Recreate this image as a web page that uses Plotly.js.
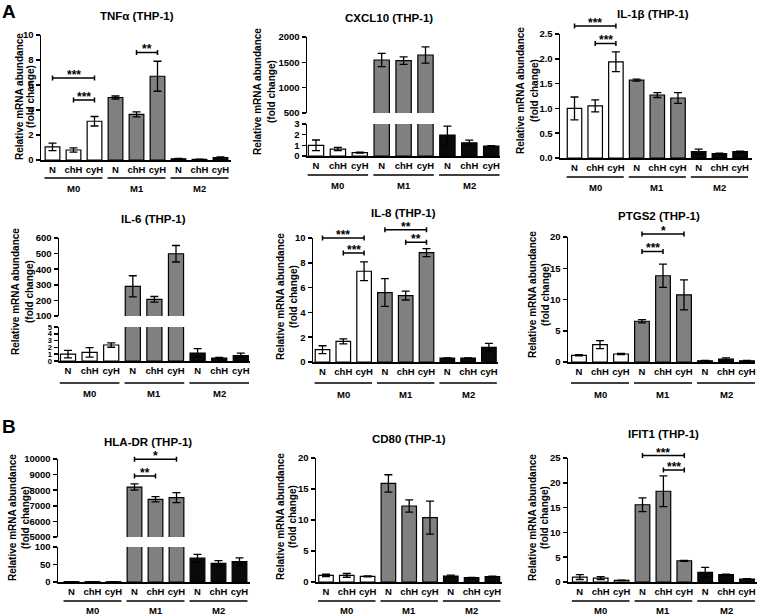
<!DOCTYPE html>
<html><head><meta charset="utf-8">
<script src="https://cdn.plot.ly/plotly-3.0.1.min.js"></script>
<style>html,body{margin:0;padding:0;background:#fff}</style>
</head><body><div id="chart" style="width:758px;height:616px"></div>
<script>
// ---------- data ----------
const categories = ['N', 'chH', 'cyH'];
const groups = ['M0', 'M1', 'M2'];
const groupColors = ['#ffffff', '#808080', '#0a0a0a'];
const yTitle1 = 'Relative mRNA abundance';
const yTitle2 = '(fold change)';

const tnfVals = [1.05, 0.8, 3.1, 5.0, 3.65, 6.7, 0.1, 0.05, 0.2];
const tnfErr  = [0.3, 0.17, 0.38, 0.12, 0.2, 1.2, 0.03, 0.02, 0.05];
const tnfSig  = [[0, 2, 6.56, '***'], [1, 2, 4.8, '***'], [4, 5, 8.6, '**']];

const cxclVals = [1.0, 0.65, 0.31, 1546, 1533, 1645, 1.96, 1.24, 0.93];
const cxclErr  = [0.5, 0.15, 0.04, 130, 75, 160, 0.84, 0.25, 0.04];

const il1bVals = [1.0, 1.05, 1.94, 1.57, 1.27, 1.21, 0.13, 0.09, 0.13];
const il1bErr  = [0.23, 0.12, 0.2, 0.02, 0.05, 0.11, 0.05, 0.01, 0.01];
const il1bSig  = [[0, 2, 2.66, '***'], [1, 2, 2.31, '***']];

const il6Vals = [1.0, 1.27, 2.35, 290, 207, 499, 1.17, 0.42, 0.8];
const il6Err  = [0.55, 0.7, 0.33, 68, 18, 53, 0.65, 0.1, 0.35];

const il8Vals = [0.99, 1.66, 7.32, 5.6, 5.36, 8.82, 0.32, 0.32, 1.18];
const il8Err  = [0.32, 0.2, 0.75, 1.12, 0.36, 0.32, 0.02, 0.02, 0.32];
const il8Sig  = [[0, 2, 10.0, '***'], [1, 2, 8.79, '***'], [3, 5, 10.67, '**'], [4, 5, 9.65, '**']];

const ptgsVals = [1.07, 2.78, 1.28, 6.52, 13.8, 10.75, 0.2, 0.45, 0.2];
const ptgsErr  = [0.1, 0.64, 0.08, 0.25, 1.87, 2.4, 0.05, 0.2, 0.05];
const ptgsSig  = [[3, 5, 20.5, '*'], [3, 4, 17.7, '***']];

const hlaVals = [1.0, 0.9, 0.8, 8200, 7417, 7519, 68, 53, 58];
const hlaErr  = [0.2, 0.2, 0.2, 200, 170, 320, 11, 8, 11];
const hlaSig  = [[3, 5, 9990, '*'], [3, 4, 8910, '**']];

const cd80Vals = [1.07, 1.07, 0.91, 15.9, 12.26, 10.38, 0.97, 0.7, 0.86];
const cd80Err  = [0.18, 0.3, 0.07, 1.4, 1.0, 2.65, 0.15, 0.05, 0.1];

const ifitVals = [1.0, 0.8, 0.33, 15.57, 18.3, 4.28, 1.94, 1.47, 0.6];
const ifitErr  = [0.5, 0.3, 0.05, 1.4, 3.1, 0.1, 1.0, 0.1, 0.08];
const ifitSig  = [[3, 5, 25.5, '***'], [4, 5, 22.6, '***']];

// ---------- layout (pixel geometry) ----------
const W = 758, H = 616;
const fx = p => p / W, fy = p => 1 - p / H;
const FONT = 'Liberation Sans, Arial, sans-serif';
const bold = (size) => ({family: FONT, size: size, color: '#000', weight: 'bold'});

const panels = [
  {title: 'TNFα (THP-1)', vals: tnfVals, err: tnfErr, sig: tnfSig, x0: 41, c0: 52.5, s: 21, x1: 231,
   yTop: 35, yBot: 160, range: [0, 10], dtick: 2, tx: 137, ty: 16, t1x: 19, tgap: 11, ty0: 97, line: 178, grp: 188},
  {title: 'CXCL10 (THP-1)', vals: cxclVals, err: cxclErr, sig: [], x0: 307, c0: 316, s: 21.9, x1: 500,
   broken: true, up: [37, 113], lo: [124, 156], upRange: [500, 2000], upD: 500, loRange: [0, 3], loD: 1,
   tx: 389, ty: 18, t1x: 257, tgap: 14, ty0: 92, line: 175, grp: 185},
  {title: 'IL-1β (THP-1)', vals: il1bVals, err: il1bErr, sig: il1bSig, x0: 560, c0: 574.5, s: 20.7, x1: 752,
   yTop: 34, yBot: 158, range: [0, 2.5], dtick: 0.5, fmt: '.1f', tx: 653, ty: 14, t1x: 521, tgap: 14, ty0: 91, line: 177, grp: 187},
  {title: 'IL-6 (THP-1)', vals: il6Vals, err: il6Err, sig: [], x0: 59, c0: 68, s: 21.6, x1: 250,
   broken: true, up: [238, 316], lo: [327, 361], upRange: [100, 600], upD: 100, loRange: [0, 5], loD: 1, loFont: 7.5,
   tx: 153, ty: 219, t1x: 15, tgap: 14, ty0: 292, line: 383, grp: 393},
  {title: 'IL-8 (THP-1)', vals: il8Vals, err: il8Err, sig: il8Sig, x0: 313, c0: 322.5, s: 20.8, x1: 498,
   yTop: 238, yBot: 362, range: [0, 10], dtick: 2, tx: 403, ty: 213, t1x: 280, tgap: 13, ty0: 297, line: 383, grp: 394},
  {title: 'PTGS2 (THP-1)', vals: ptgsVals, err: ptgsErr, sig: ptgsSig, x0: 568, c0: 579, s: 21, x1: 755,
   yTop: 237, yBot: 362, range: [0, 20], dtick: 5, tx: 659, ty: 216, t1x: 532, tgap: 13, ty0: 295, line: 383, grp: 394},
  {title: 'HLA-DR (THP-1)', vals: hlaVals, err: hlaErr, sig: hlaSig, x0: 58, c0: 71.5, s: 21, x1: 250,
   broken: true, up: [459, 537], lo: [547, 582], upRange: [5000, 10000], upD: 1000, loRange: [0, 100], loD: 50,
   tx: 148, ty: 442, t1x: 12, tgap: 13, ty0: 518, line: 601, grp: 610},
  {title: 'CD80 (THP-1)', vals: cd80Vals, err: cd80Err, sig: [], x0: 316, c0: 326, s: 20.8, x1: 502,
   yTop: 458, yBot: 582, range: [0, 20], dtick: 5, tx: 409, ty: 439, t1x: 280, tgap: 12, ty0: 517, line: 601, grp: 610},
  {title: 'IFIT1 (THP-1)', vals: ifitVals, err: ifitErr, sig: ifitSig, x0: 568, c0: 579.8, s: 20.9, x1: 757,
   yTop: 458, yBot: 582, range: [0, 25], dtick: 5, tx: 663, ty: 434, t1x: 532, tgap: 12, ty0: 518, line: 601, grp: 610}
];

const data = [];
const layout = {
  width: W, height: H, margin: {l: 0, r: 0, t: 0, b: 0, pad: 0},
  paper_bgcolor: '#fff', plot_bgcolor: 'rgba(0,0,0,0)', showlegend: false,
  font: bold(9.5), annotations: [], shapes: []
};
const nm = i => (i === 1 ? '' : String(i));

function yAxisStyle(dom, range, dtick, anchor, fmt, fsize) {
  return {domain: [fy(dom[1]), fy(dom[0])], range: range, dtick: dtick, tick0: range[0], anchor: anchor,
    showline: true, linecolor: '#000', linewidth: 1.5, ticks: 'outside', ticklen: 4, tickwidth: 1.5,
    tickcolor: '#000', showgrid: false, zeroline: false, tickfont: bold(fsize || 9.5), tickformat: fmt || 'd',
    fixedrange: true};
}

function barTrace(p, n) {
  const xs = p.vals.map((v, i) => i);
  return {type: 'bar', x: xs, y: p.vals, xaxis: 'x' + nm(n), yaxis: 'y' + nm(n), width: 0.7,
    marker: {color: p.vals.map((v, i) => groupColors[Math.floor(i / 3)]), line: {color: '#000', width: 1.2}},
    error_y: {type: 'data', array: p.err, visible: true, color: '#000', thickness: 1.3, width: 4},
    hoverinfo: 'skip'};
}

let k = 1;
panels.forEach(p => {
  const xr = [(p.x0 - p.c0) / p.s, (p.x1 - p.c0) / p.s];
  const xd = [fx(p.x0), fx(p.x1)];
  const xs = p.vals.map((v, i) => i);
  const lo = k;
  const loDom = p.broken ? p.lo : [p.yTop, p.yBot];
  layout['xaxis' + nm(lo)] = {domain: xd, range: xr, anchor: 'y' + nm(lo), tickvals: xs,
    ticktext: xs.map(i => categories[i % 3]), ticks: '', showline: true, linecolor: '#000', linewidth: 1.5,
    showgrid: false, zeroline: false, tickfont: bold(9.5), fixedrange: true};
  layout['yaxis' + nm(lo)] = yAxisStyle(loDom, p.broken ? p.loRange : p.range,
    p.broken ? p.loD : p.dtick, 'x' + nm(lo), p.fmt, p.loFont);
  data.push(barTrace(p, lo));
  k += 1;
  let sDom = loDom, sRange = p.broken ? p.loRange : p.range;
  if (p.broken) {
    const up = k;
    layout['xaxis' + nm(up)] = {domain: xd, range: xr, anchor: 'y' + nm(up), visible: false, fixedrange: true};
    layout['yaxis' + nm(up)] = yAxisStyle(p.up, p.upRange, p.upD, 'x' + nm(up));
    data.push(barTrace(p, up));
    sDom = p.up; sRange = p.upRange;
    k += 1;
  }
  if (p.sig.length) {
    // invisible axis pair with the same scale, extended upward so brackets above the top tick are kept
    const sa = k; k += 1;
    const ext = 30;
    const perPx = (sRange[1] - sRange[0]) / (sDom[1] - sDom[0]);
    layout['xaxis' + nm(sa)] = {domain: xd, range: xr, anchor: 'y' + nm(sa), visible: false, fixedrange: true};
    layout['yaxis' + nm(sa)] = {domain: [fy(sDom[1]), fy(sDom[0] - ext)], range: [sRange[0], sRange[1] + ext * perPx],
      anchor: 'x' + nm(sa), visible: false, fixedrange: true};
    data.push({type: 'scatter', mode: 'markers', xaxis: 'x' + nm(sa), yaxis: 'y' + nm(sa),
      x: p.sig.map(s => (s[0] + s[1]) / 2), y: p.sig.map(s => s[2]),
      marker: {size: 1, opacity: 0}, cliponaxis: false, hoverinfo: 'skip',
      error_x: {type: 'data', symmetric: true, array: p.sig.map(s => (s[1] - s[0]) / 2), visible: true,
        color: '#000', thickness: 1.5, width: 2.5}});
    p.sig.forEach(s => {
      layout.annotations.push({xref: 'x' + nm(sa), yref: 'y' + nm(sa), x: (s[0] + s[1]) / 2, y: s[2],
        text: s[3], showarrow: false, font: bold(12), xanchor: 'center', yanchor: 'middle', yshift: 3});
    });
  }
  // group underlines and labels
  groups.forEach((g, gi) => {
    layout.shapes.push({type: 'line', xref: 'x' + nm(lo), yref: 'paper', x0: gi * 3 - 0.38, x1: gi * 3 + 2.38,
      y0: fy(p.line), y1: fy(p.line), line: {color: '#000', width: 1.5}});
    layout.annotations.push({xref: 'x' + nm(lo), yref: 'paper', x: gi * 3 + 1, y: fy(p.grp), text: g,
      showarrow: false, font: bold(9.5), xanchor: 'center', yanchor: 'middle'});
  });
  // title
  layout.annotations.push({xref: 'paper', yref: 'paper', x: fx(p.tx), y: fy(p.ty), text: p.title,
    showarrow: false, font: bold(11.5), xanchor: 'center', yanchor: 'middle'});
  // y titles
  layout.annotations.push({xref: 'paper', yref: 'paper', x: fx(p.t1x), y: fy(p.ty0), text: yTitle1,
    showarrow: false, textangle: -90, font: bold(10), xanchor: 'center', yanchor: 'middle'});
  layout.annotations.push({xref: 'paper', yref: 'paper', x: fx(p.t1x + p.tgap), y: fy(p.ty0), text: yTitle2,
    showarrow: false, textangle: -90, font: bold(10), xanchor: 'center', yanchor: 'middle'});
});

layout.annotations.push({xref: 'paper', yref: 'paper', x: fx(9), y: fy(11), text: 'A', showarrow: false,
  font: bold(19), xanchor: 'center', yanchor: 'middle'});
layout.annotations.push({xref: 'paper', yref: 'paper', x: fx(9), y: fy(426), text: 'B', showarrow: false,
  font: bold(19), xanchor: 'center', yanchor: 'middle'});

Plotly.newPlot('chart', data, layout, {staticPlot: true, displayModeBar: false});
</script>
</body></html>
